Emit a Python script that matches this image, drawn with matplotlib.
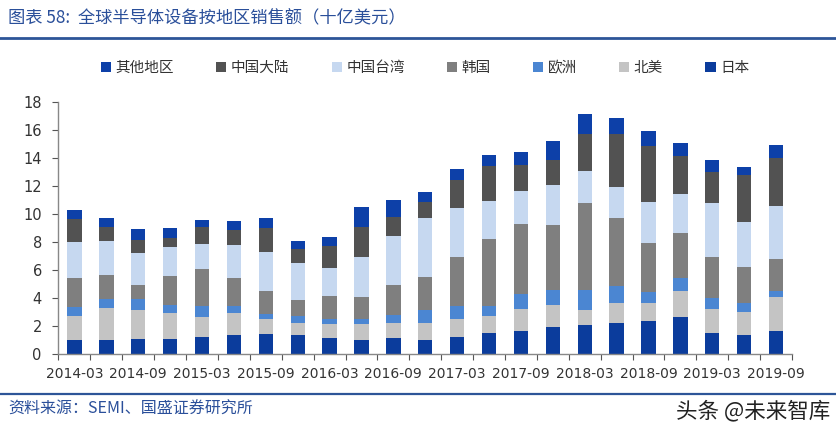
import matplotlib
matplotlib.use("Agg")
import matplotlib.pyplot as plt
import numpy as np
from matplotlib.lines import Line2D

plt.rcParams['font.family'] = ['DejaVu Sans', 'Noto Sans CJK SC']

quarters = ["2014-03", "2014-06", "2014-09", "2014-12", "2015-03", "2015-06",
            "2015-09", "2015-12", "2016-03", "2016-06", "2016-09", "2016-12",
            "2017-03", "2017-06", "2017-09", "2017-12", "2018-03", "2018-06",
            "2018-09", "2018-12", "2019-03", "2019-06", "2019-09"]

japan = [0.93, 0.93, 1.05, 1.05, 1.17, 1.31, 1.38, 1.29, 1.14, 0.95, 1.14, 0.95,
         1.15, 1.44, 1.63, 1.92, 2.04, 2.15, 2.30, 2.58, 1.44, 1.30, 1.58]
north_america = [1.78, 2.31, 2.09, 1.81, 1.47, 1.55, 1.10, 0.92, 1.00, 1.19, 1.07, 1.26,
                 1.29, 1.26, 1.52, 1.52, 1.09, 1.48, 1.28, 1.91, 1.71, 1.69, 2.48]
europe = [0.58, 0.62, 0.72, 0.62, 0.72, 0.52, 0.35, 0.46, 0.36, 0.36, 0.55, 0.93,
          0.95, 0.69, 1.08, 1.07, 1.38, 1.19, 0.84, 0.93, 0.84, 0.59, 0.43]
korea = [2.09, 1.74, 1.00, 2.07, 2.69, 2.00, 1.60, 1.16, 1.64, 1.57, 2.14, 2.36,
         3.53, 4.76, 5.00, 4.67, 6.26, 4.88, 3.45, 3.16, 2.93, 2.57, 2.24]
taiwan = [2.62, 2.42, 2.31, 2.05, 1.78, 2.38, 2.83, 2.67, 1.96, 2.79, 3.46, 4.19,
          3.45, 2.74, 2.35, 2.86, 2.27, 2.22, 2.98, 2.79, 3.81, 3.22, 3.83]
china = [1.62, 1.00, 0.93, 0.64, 1.19, 1.03, 1.69, 0.98, 1.59, 2.21, 1.40, 1.12,
         2.00, 2.53, 1.88, 1.78, 2.66, 3.78, 3.97, 2.74, 2.26, 3.38, 3.43]
other = [0.62, 0.67, 0.80, 0.71, 0.55, 0.64, 0.74, 0.57, 0.64, 1.41, 1.24, 0.74,
         0.78, 0.73, 0.91, 1.36, 1.38, 1.15, 1.07, 0.90, 0.83, 0.60, 0.90]

series_names = ["日本", "北美", "欧洲", "韩国", "中国台湾", "中国大陆", "其他地区"]
series_vals = [japan, north_america, europe, korea, taiwan, china, other]
series_colors = ["#0B3C9C", "#C4C4C4", "#4B86D2", "#7F7F7F", "#C6D8F0", "#525252", "#0D40A8"]

W, H = 837, 437
fig = plt.figure(figsize=(W / 100, H / 100), dpi=100)

def fx(px):
    return px / W

def fy(py):
    return 1 - py / H

ax = fig.add_axes([fx(58.5), fy(353.5), fx(792) - fx(58.5), fy(101.5) - fy(353.5)])
x = np.arange(len(quarters))
bottom = np.zeros(len(quarters))
handles = {}
for name, vals, col in zip(series_names, series_vals, series_colors):
    v = np.array(vals)
    b = ax.bar(x, v, width=0.45, bottom=bottom, color=col, edgecolor='none', label=name)
    handles[name] = b
    bottom += v

ax.set_xlim(-0.5, len(quarters) - 0.5)
ax.set_ylim(0, 18)
ax.set_yticks(np.arange(0, 19, 2))
ax.set_xticks(x[::2])
ax.set_xticklabels(quarters[::2])
ax.set_xticks(np.arange(-0.5, len(quarters), 1), minor=True)
ax.tick_params(axis='x', which='major', length=0, labelsize=10, colors='#333333', pad=10)
ax.tick_params(axis='x', which='minor', length=4, direction='out', color='#555555', width=0.8)
ax.tick_params(axis='y', which='major', length=4, direction='out', color='#555555', width=0.8,
               labelsize=10.5, labelcolor='#333333', pad=8)
for s in ['top', 'right']:
    ax.spines[s].set_visible(False)
for s in ['left', 'bottom']:
    ax.spines[s].set_color('#888888')
    ax.spines[s].set_linewidth(1.0)

# Legend
order = ["其他地区", "中国大陆", "中国台湾", "韩国", "欧洲", "北美", "日本"]
leg = fig.legend([handles[n] for n in order], order, loc='center',
                 bbox_to_anchor=(fx(425), fy(68)), ncol=7, frameon=False,
                 handlelength=0.7, handleheight=0.7, handletextpad=0.3,
                 columnspacing=2.9, prop={'family': ['Noto Sans CJK SC'], 'size': 10.5})
for t in leg.get_texts():
    t.set_color('#333333')

# Title and lines
fig.text(fx(8), fy(18), "图表 58:  全球半导体设备按地区销售额（十亿美元）", ha='left', va='center',
         fontsize=12.4, color='#2A4F9A', family=['Noto Sans CJK SC', 'DejaVu Sans'])
fig.add_artist(Line2D([0, 1], [fy(38), fy(38)], color='#2D5598', lw=2.0, transform=fig.transFigure))
fig.add_artist(Line2D([0, 1], [fy(394), fy(394)], color='#2D5598', lw=1.6, transform=fig.transFigure))

fig.text(fx(8), fy(409), "资料来源：SEMI、国盛证券研究所", ha='left', va='center',
         fontsize=11.5, color='#2A4F9A', family=['Noto Sans CJK SC', 'DejaVu Sans'])
fig.text(fx(830), fy(411), "头条 @未来智库", ha='right', va='center',
         fontsize=15.5, color='#222222', family=['Noto Sans CJK SC', 'DejaVu Sans'])

fig.savefig("out.png", dpi=100)
